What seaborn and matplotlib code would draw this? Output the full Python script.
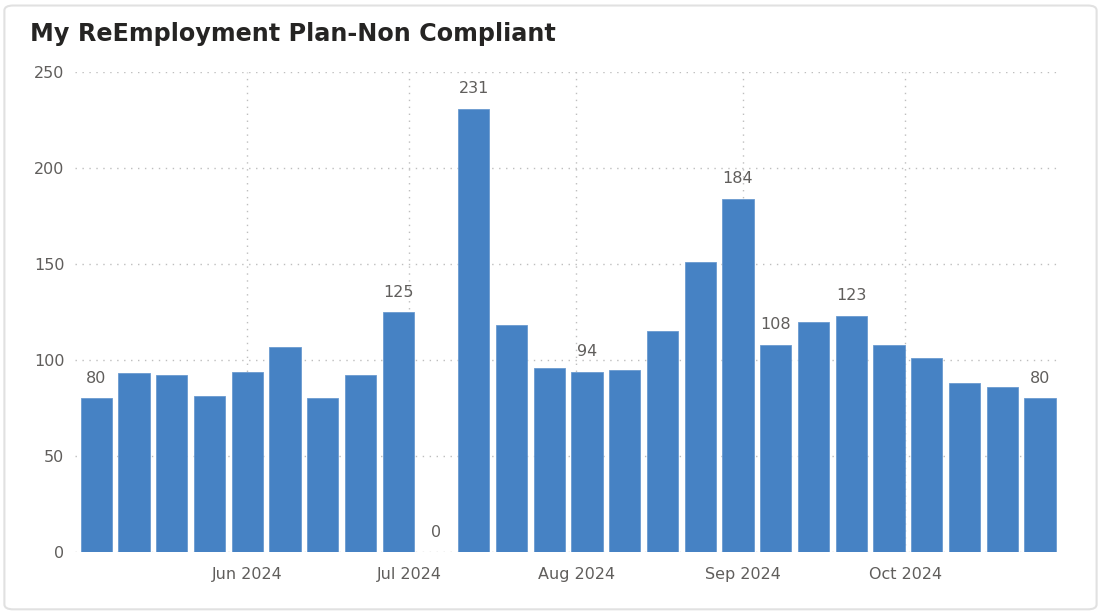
import matplotlib
matplotlib.use("Agg")
import matplotlib.pyplot as plt
import seaborn as sns
import pandas as pd
import numpy as np
from matplotlib.patches import FancyBboxPatch

# ---- data ----
week_starts = pd.date_range("2024-05-04", periods=26, freq="7D")
values = [80, 93, 92, 81, 94, 107, 80, 92, 125, 0, 231, 118, 96, 94, 95,
          115, 151, 184, 108, 120, 123, 108, 101, 88, 86, 80]
labeled_idx = [0, 8, 9, 10, 13, 17, 18, 20, 25]
month_ticks = pd.to_datetime(["2024-06-01", "2024-07-01", "2024-08-01",
                              "2024-09-01", "2024-10-01"])
month_labels = ["Jun 2024", "Jul 2024", "Aug 2024", "Sep 2024", "Oct 2024"]
y_ticks = [0, 50, 100, 150, 200, 250]
title = "My ReEmployment Plan-Non Compliant"

df = pd.DataFrame({"week": np.arange(len(values)), "value": values})

sns.set_theme(style="white")
plt.rcParams["font.family"] = ["DejaVu Sans"]

fig = plt.figure(figsize=(11.01, 6.13), dpi=100)
fig.patch.set_facecolor("white")

# card border
card = FancyBboxPatch((0.004, 0.006), 0.992, 0.985,
                      boxstyle="round,pad=0,rounding_size=0.008",
                      transform=fig.transFigure, facecolor="white",
                      edgecolor="#E1E1E1", linewidth=1.5, zorder=-5)
fig.patches.append(card)

ax = fig.add_axes([0.0685, 0.0995, 0.895, 0.783])
ax.set_zorder(2)
ax.set_facecolor("none")
bar_color = "#4682C4"
sns.barplot(data=df, x="week", y="value", color=bar_color, saturation=1,
            width=0.83, ax=ax, zorder=3, edgecolor="#6A9AD0", linewidth=0.6)

ax.set_ylim(0, 250)
ax.set_xlim(-0.55, len(values) - 0.45)
ax.set_yticks(y_ticks)
ax.set_yticklabels([str(v) for v in y_ticks])

# month tick positions in bar units (weeks since first bar)
tick_pos = [(d - week_starts[0]).days / 7.0 for d in month_ticks]
ax.set_xticks(tick_pos)
ax.set_xticklabels(month_labels)

for s in ax.spines.values():
    s.set_visible(False)
ax.tick_params(axis="both", length=0, colors="#605E5C", labelsize=11.5)
ax.tick_params(axis="x", pad=11)
ax.tick_params(axis="y", pad=8)
ax.set_xlabel("")
ax.set_ylabel("")

ax.grid(True, axis="both", linestyle=(0, (1, 4)), color="#BEBEBE",
        linewidth=1.0, zorder=0)
ax.set_axisbelow(True)

for i in labeled_idx:
    ax.text(i, values[i] + 6.5, str(values[i]), ha="center", va="bottom",
            fontsize=11.5, color="#605E5C", zorder=4)

fig.text(0.027, 0.944, title, fontsize=17.2, fontweight="bold",
         color="#252423", ha="left", va="center")

fig.savefig("out.png", dpi=100)
